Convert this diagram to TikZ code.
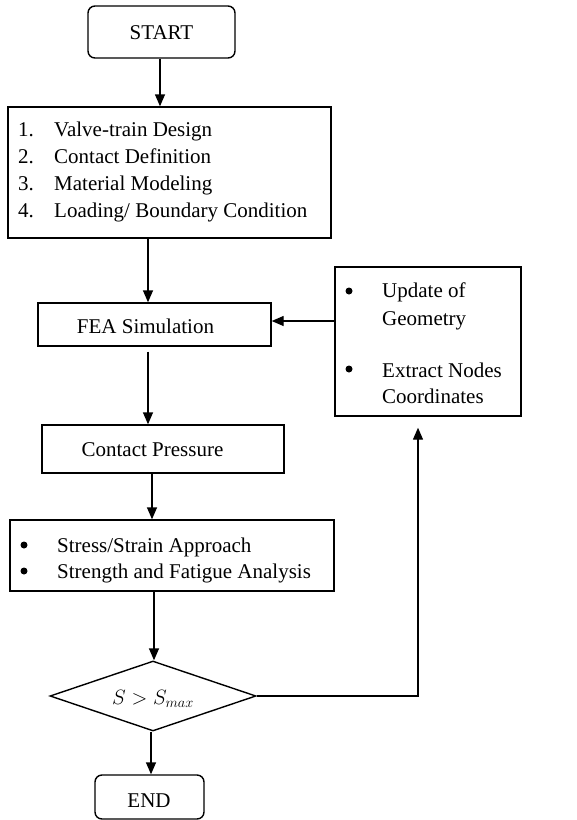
\documentclass[tikz,border=0pt]{standalone}
\usepackage{fontspec}
\setmainfont{Liberation Serif}
\usetikzlibrary{arrows.meta,shapes.geometric}
\begin{document}
\begin{tikzpicture}[x=1pt,y=-1pt,
  every node/.style={font=\fontsize{21}{27}\selectfont},
  box/.style={draw,line width=1.4pt,inner sep=0pt,rectangle},
  term/.style={box,rounded corners=7pt},
  decide/.style={draw,line width=1.4pt,diamond,inner sep=0pt},
  arr/.style={line width=1.4pt,-{Triangle[length=12pt,width=10pt]}},
  lbl/.style={anchor=base west,inner sep=0pt},
  ctr/.style={anchor=base,inner sep=0pt},
  dot/.style={circle,fill=black,inner sep=0pt,minimum size=7pt}]
\useasboundingbox (0,0) rectangle (577,820);
% boxes
\node[term,minimum width=147pt,minimum height=52pt] (start) at (161.5,32) {};
\node[box,minimum width=323pt,minimum height=131pt] (list) at (169.5,172.5) {};
\node[box,minimum width=233pt,minimum height=43pt] (fea) at (154.5,324.5) {};
\node[box,minimum width=242pt,minimum height=48pt] (cp) at (163,449) {};
\node[box,minimum width=324pt,minimum height=71pt] (ss) at (172,555.5) {};
\node[decide,minimum width=206pt,minimum height=70pt] (dec) at (153,696) {};
\node[box,minimum width=186pt,minimum height=149pt] (upd) at (428,341.5) {};
\node[term,minimum width=109pt,minimum height=44pt] (end) at (149.5,797) {};
% texts
\node[ctr] (tstart) at (161.5,39) {START};
\node[lbl] (n1) at (18,136) {1.};
\node[lbl] (n2) at (18,163) {2.};
\node[lbl] (n3) at (18,190) {3.};
\node[lbl] (n4) at (18,217) {4.};
\node[lbl] (l1) at (54,136) {Valve-train Design};
\node[lbl] (l2) at (54,163) {Contact Definition};
\node[lbl] (l3) at (54,190) {Material Modeling};
\node[lbl] (l4) at (54,217) {Loading/ Boundary Condition};
\node[ctr] (tfea) at (145.5,333) {FEA Simulation};
\node[ctr] (tcp) at (152.5,456) {Contact Pressure};
\node[dot] (b1) at (24,545) {};
\node[lbl] (s1) at (57,552) {Stress/Strain Approach};
\node[dot] (b2) at (24,571) {};
\node[lbl] (s2) at (57,578) {Strength and Fatigue Analysis};
\node[ctr] (tdec) at (153,704) {$S > S_{max}$};
\node[ctr] (tend) at (149,807) {END};
\node[dot] (u0) at (349,291) {};
\node[lbl] (u1) at (382,297) {Update of};
\node[lbl] (u2) at (382,325) {Geometry};
\node[dot] (u3) at (349,369) {};
\node[lbl] (u4) at (382,377) {Extract Nodes};
\node[lbl] (u5) at (382,403) {Coordinates};
% connector x positions
\coordinate (xa) at (160,0);
\coordinate (xb) at (148,0);
\coordinate (xc) at (152,0);
\coordinate (xd) at (154,0);
\coordinate (xe) at (151,0);
\coordinate (xf) at (418,0);
\coordinate (yu) at (0,321);
% connectors
\draw[arr] (start.south -| xa) -- (list.north -| xa);
\draw[arr] (list.south -| xb) -- (fea.north -| xb);
\draw[arr,shorten <=5pt] (fea.south -| xb) -- (cp.north -| xb);
\draw[arr] (cp.south -| xc) -- (ss.north -| xc);
\draw[arr] (ss.south -| xd) -- (dec.north -| xd);
\draw[arr] (dec.south -| xe) -- (end.north -| xe);
\draw[arr,shorten >=11pt] (dec.east) -- (dec.east -| xf) -- (upd.south -| xf);
\draw[arr] (upd.west |- yu) -- (fea.east |- yu);
\end{tikzpicture}
\end{document}
